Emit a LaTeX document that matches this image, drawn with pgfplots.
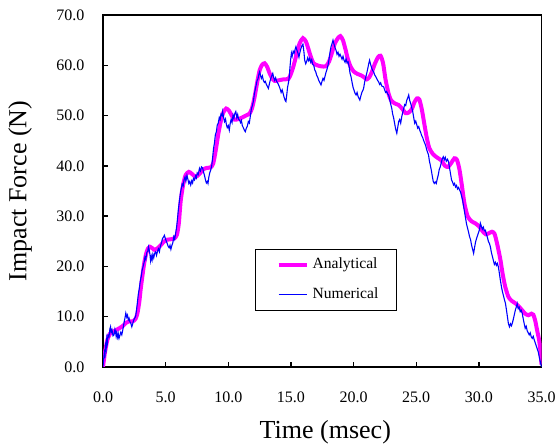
\documentclass[border=0pt]{standalone}
\usepackage{fontspec}
\setmainfont{Liberation Serif}
\usepackage{pgfplots}
\pgfplotsset{compat=1.18}
\definecolor{anmag}{HTML}{FF00FF}
\definecolor{numblue}{HTML}{0000FF}

\begin{document}
\begin{tikzpicture}
\path[use as bounding box] (-51.5pt,-40.5pt) rectangle (226pt,183.5pt);
\begin{axis}[
  scale only axis, width=219.25pt, height=176pt,
  xmin=0, xmax=35, ymin=0, ymax=70,
  xtick distance=5, ytick distance=10,
  tick align=inside, tick pos=left, major tick length=2.5pt,
  axis line style={line width=0.7pt}, every tick/.style={black, line width=0.7pt},
  /pgf/number format/assume math mode=true,
  xticklabel style={font=\fontsize{8}{9.6}\selectfont, yshift=-9pt,
    /pgf/number format/.cd, fixed, fixed zerofill, precision=1},
  yticklabel style={font=\fontsize{8}{9.6}\selectfont, xshift=-5.8pt,
    /pgf/number format/.cd, fixed, fixed zerofill, precision=1},
  xlabel={Time (msec)}, ylabel={Impact Force (N)},
  label style={font=\fontsize{13}{15.6}\selectfont},
  xlabel style={at={(axis description cs:0.507,-0.185)}, anchor=center},
  ylabel style={at={(axis description cs:-0.189,0.5)}, anchor=center},
  legend style={at={(axis description cs:0.3466,0.335)}, anchor=north west,
    draw=black, line width=0.6pt, fill=white, font=\fontsize{7.8}{9.4}\selectfont,
    inner xsep=7pt, inner ysep=2.2pt, row sep=4pt},
  legend cell align=left,
  legend image code/.code={\path (-3.5pt,0pt); \draw[#1] (0pt,0pt) -- (14pt,0pt);},
]
% Analytical
\addplot[anmag, line width=2pt, smooth, tension=0.4] coordinates {
(0,0) (0.15,2.8) (0.35,5.4) (0.55,6.6) (0.75,7.0) (1.0,7.3) (1.3,7.7) (1.6,8.2) (1.85,8.8) (2.1,9.1) (2.4,9.1) (2.6,9.6) (2.75,10.7) (2.9,13) (3.0,15.3) (3.15,18.2) (3.3,20.8) (3.45,22.6) (3.6,23.6) (3.75,23.9) (3.9,23.7) (4.1,23.3) (4.35,23.6) (4.6,24.2) (4.85,24.9) (5.1,25.3) (5.4,25.4) (5.7,25.6) (5.9,26.3) (6.05,28.5) (6.2,33) (6.4,36.3) (6.6,38.2) (6.85,38.8) (7.1,38.4) (7.4,37.8) (7.7,38.4) (8.0,39.3) (8.3,39.6) (8.6,39.7) (8.8,40.5) (9.0,43.1) (9.2,46.3) (9.42,49.1) (9.6,50.6) (9.83,51.4) (10.05,51.0) (10.3,49.9) (10.5,49.2) (10.8,49.3) (11.1,49.6) (11.4,50.0) (11.7,50.4) (11.9,51.5) (12.1,53.7) (12.3,56.5) (12.5,59.0) (12.7,60.1) (12.9,60.4) (13.1,59.7) (13.3,58.4) (13.5,57.4) (13.7,56.9) (14.0,57.0) (14.4,57.2) (14.8,57.3) (15.0,58.3) (15.2,59.8) (15.45,62.2) (15.7,64.4) (15.96,65.4) (16.2,64.7) (16.4,63.2) (16.6,61.6) (16.8,60.4) (17.1,60.0) (17.4,59.8) (17.8,59.8) (18.05,60.8) (18.25,62.3) (18.5,64.3) (18.75,65.4) (18.95,65.8) (19.15,65.0) (19.35,63.2) (19.55,61.2) (19.75,59.8) (20.0,58.8) (20.3,58.3) (20.6,58.0) (20.85,57.6) (21.05,57.2) (21.25,57.6) (21.45,58.6) (21.7,60.3) (21.95,61.6) (22.15,61.9) (22.35,60.5) (22.55,57.2) (22.8,54.3) (23.0,53.0) (23.3,52.4) (23.6,52.1) (23.9,51.3) (24.15,50.5) (24.4,50.6) (24.65,51.3) (24.85,52.6) (25.05,53.4) (25.25,53.2) (25.45,51.2) (25.65,48.3) (25.85,45.5) (26.05,43.5) (26.35,42.3) (26.7,41.6) (27.0,41.1) (27.3,40.0) (27.55,39.8) (27.8,40.6) (28.05,41.5) (28.25,41.2) (28.45,39.3) (28.65,36.0) (28.85,32.5) (29.1,30.0) (29.4,29.0) (29.7,28.6) (30.0,28.0) (30.3,27.0) (30.55,26.4) (30.8,26.6) (31.05,26.9) (31.25,26.5) (31.45,24.6) (31.7,21.6) (31.9,18.5) (32.1,16.0) (32.35,14.0) (32.6,13.2) (32.9,12.7) (33.2,12.0) (33.45,11.3) (33.7,10.6) (33.95,10.3) (34.2,10.6) (34.35,10.4) (34.5,9.2) (34.65,7.3) (34.8,5.5) (34.9,3.5) (35.0,0.5)
};
\addlegendentry{Analytical}
% Numerical
\addplot[numblue, line width=0.55pt] coordinates {
(0,0) (0.05,1.5) (0.1,2.7) (0.15,1.8) (0.2,4.2) (0.25,3.5) (0.3,5.6) (0.35,4.8) (0.4,6.3) (0.48,6.0) (0.55,7.6) (0.6,8.0) (0.65,6.9) (0.72,7.4) (0.8,6.2) (0.88,6.4) (0.95,7.5) (1.0,7.0) (1.05,6.1) (1.1,6.8) (1.17,5.9) (1.22,6.6) (1.28,5.7) (1.35,6.3) (1.42,6.9) (1.5,6.4) (1.55,7.0) (1.62,7.9) (1.7,9.1) (1.76,9.8) (1.82,10.7) (1.9,9.9) (1.96,10.3) (2.02,9.4) (2.08,9.7) (2.15,9.0) (2.22,8.7) (2.3,8.0) (2.35,8.4) (2.42,9.1) (2.5,9.6) (2.6,10.0) (2.68,11.4) (2.75,12.9) (2.82,14.5) (2.9,15.6) (2.97,17.0) (3.05,18.0) (3.12,19.2) (3.2,20.0) (3.28,20.8) (3.35,21.9) (3.42,21.4) (3.5,22.8) (3.57,23.0) (3.63,23.9) (3.68,23.4) (3.74,22.5) (3.8,21.1) (3.86,22.0) (3.92,21.3) (3.98,22.4) (4.05,21.7) (4.12,22.6) (4.2,22.9) (4.27,22.2) (4.35,23.0) (4.42,23.5) (4.5,22.9) (4.58,24.0) (4.66,24.6) (4.74,25.5) (4.82,25.8) (4.9,26.2) (4.97,25.6) (5.05,25.0) (5.12,24.6) (5.2,24.0) (5.28,23.7) (5.35,24.2) (5.42,23.4) (5.5,24.2) (5.58,24.8) (5.65,25.9) (5.72,25.4) (5.8,26.6) (5.88,27.9) (5.95,29.6) (6.02,31.4) (6.1,33.0) (6.18,34.6) (6.25,35.5) (6.32,36.4) (6.4,36.0) (6.47,37.2) (6.55,37.8) (6.62,37.0) (6.7,38.1) (6.78,37.3) (6.85,36.5) (6.92,36.9) (7.0,36.2) (7.08,37.0) (7.15,36.6) (7.22,37.5) (7.3,37.2) (7.38,38.0) (7.45,37.6) (7.52,38.6) (7.6,38.3) (7.7,39.5) (7.78,39.0) (7.86,39.8) (7.95,39.6) (8.02,38.8) (8.1,38.1) (8.18,37.2) (8.25,36.6) (8.32,36.9) (8.38,36.5) (8.45,37.8) (8.52,38.6) (8.6,39.2) (8.68,40.1) (8.75,41.6) (8.82,43.4) (8.9,44.6) (8.97,46.2) (9.05,46.8) (9.12,48.1) (9.2,48.5) (9.28,49.6) (9.35,49.2) (9.42,50.3) (9.5,50.0) (9.55,50.8) (9.62,49.7) (9.7,48.8) (9.78,49.3) (9.85,48.2) (9.92,47.6) (10.0,48.0) (10.08,47.1) (10.15,48.4) (10.22,49.2) (10.3,48.6) (10.38,50.1) (10.45,49.5) (10.52,50.4) (10.6,50.8) (10.68,49.6) (10.75,50.2) (10.82,49.3) (10.9,49.1) (10.98,48.6) (11.05,49.0) (11.12,48.0) (11.2,47.6) (11.28,47.1) (11.36,46.8) (11.44,47.5) (11.52,47.9) (11.6,48.8) (11.68,48.5) (11.76,49.9) (11.84,51.3) (11.92,52.0) (12.0,52.8) (12.07,54.1) (12.15,55.2) (12.22,56.0) (12.3,57.0) (12.37,57.3) (12.44,58.2) (12.5,58.7) (12.57,58.0) (12.64,57.4) (12.72,57.9) (12.8,57.0) (12.88,56.6) (12.96,56.8) (13.04,56.2) (13.12,55.8) (13.2,55.4) (13.28,56.3) (13.36,57.1) (13.45,57.8) (13.55,58.4) (13.62,57.6) (13.7,57.0) (13.78,57.5) (13.86,56.8) (13.96,56.4) (14.05,55.9) (14.14,55.3) (14.22,54.6) (14.3,55.1) (14.38,54.4) (14.46,53.6) (14.54,53.0) (14.6,52.8) (14.67,54.2) (14.73,55.6) (14.8,56.5) (14.86,57.5) (14.92,59.5) (14.98,61.2) (15.04,62.4) (15.1,61.8) (15.18,62.8) (15.26,62.4) (15.34,63.2) (15.4,63.7) (15.48,63.0) (15.56,62.4) (15.64,61.6) (15.7,62.4) (15.78,63.2) (15.86,63.8) (15.96,64.2) (16.04,62.6) (16.1,61.0) (16.18,60.3) (16.26,60.8) (16.34,61.5) (16.42,60.9) (16.5,61.4) (16.58,60.6) (16.66,61.1) (16.74,60.2) (16.82,60.0) (16.9,59.1) (16.98,58.7) (17.06,58.0) (17.14,57.6) (17.22,57.0) (17.3,56.6) (17.4,56.1) (17.48,56.8) (17.56,57.4) (17.64,57.0) (17.72,57.8) (17.8,58.6) (17.88,59.2) (17.96,60.0) (18.04,61.2) (18.12,62.6) (18.2,63.7) (18.28,64.3) (18.36,65.0) (18.44,64.2) (18.52,63.5) (18.6,63.0) (18.68,62.2) (18.76,62.6) (18.84,61.8) (18.92,62.2) (19.0,61.7) (19.08,61.2) (19.16,61.8) (19.24,61.0) (19.32,60.6) (19.4,61.3) (19.48,60.5) (19.56,60.7) (19.64,59.8) (19.72,58.4) (19.8,57.7) (19.88,56.6) (19.96,55.6) (20.04,55.0) (20.12,54.4) (20.2,54.1) (20.28,54.6) (20.36,53.8) (20.44,53.4) (20.5,53.1) (20.58,53.9) (20.66,54.6) (20.74,55.0) (20.8,55.4) (20.88,56.6) (20.96,57.5) (21.04,58.3) (21.12,59.2) (21.2,60.2) (21.28,61.0) (21.36,60.2) (21.44,59.5) (21.52,59.0) (21.6,58.7) (21.68,58.1) (21.76,57.8) (21.84,57.4) (21.92,57.0) (22.0,56.7) (22.08,56.2) (22.16,56.5) (22.24,55.9) (22.32,55.8) (22.4,55.7) (22.48,55.1) (22.56,54.6) (22.64,54.8) (22.72,54.3) (22.8,54.1) (22.88,53.2) (22.96,52.3) (23.05,51.4) (23.12,50.3) (23.2,49.5) (23.28,48.4) (23.36,47.3) (23.45,46.5) (23.52,47.6) (23.6,48.8) (23.68,49.2) (23.76,48.5) (23.84,49.7) (23.92,50.6) (24.0,51.4) (24.08,52.2) (24.16,52.0) (24.24,53.0) (24.32,53.5) (24.4,54.1) (24.48,53.0) (24.56,52.4) (24.64,51.6) (24.72,50.8) (24.8,49.6) (24.88,48.5) (24.96,48.9) (25.04,48.2) (25.12,47.5) (25.2,47.8) (25.28,47.1) (25.36,46.6) (25.44,46.0) (25.52,45.6) (25.6,45.0) (25.68,44.5) (25.76,44.0) (25.84,43.2) (25.92,42.6) (25.98,42.2) (26.05,41.0) (26.12,40.2) (26.2,39.2) (26.28,38.0) (26.36,36.9) (26.44,36.5) (26.52,36.8) (26.6,36.5) (26.68,37.4) (26.76,38.2) (26.84,39.3) (26.92,39.8) (27.0,40.6) (27.08,41.4) (27.16,41.8) (27.24,41.2) (27.32,41.7) (27.4,40.9) (27.5,41.3) (27.58,40.8) (27.66,39.6) (27.74,38.4) (27.82,37.2) (27.9,36.8) (27.98,36.2) (28.06,36.5) (28.14,35.8) (28.22,36.1) (28.3,35.4) (28.38,35.7) (28.46,35.2) (28.54,34.8) (28.62,34.0) (28.7,33.2) (28.78,32.0) (28.86,30.8) (28.94,29.6) (29.02,28.4) (29.1,27.6) (29.18,26.8) (29.26,25.9) (29.34,25.3) (29.42,24.2) (29.5,23.4) (29.58,22.6) (29.66,23.8) (29.74,24.9) (29.82,25.6) (29.9,26.2) (29.98,26.8) (30.06,27.4) (30.12,28.6) (30.2,28.0) (30.28,27.4) (30.36,27.8) (30.44,27.1) (30.52,27.2) (30.6,26.4) (30.68,25.8) (30.76,25.0) (30.84,24.6) (30.92,23.9) (31.0,22.8) (31.08,22.0) (31.16,21.2) (31.24,20.4) (31.32,20.8) (31.4,20.2) (31.48,20.6) (31.56,19.9) (31.64,18.6) (31.72,17.2) (31.8,16.0) (31.88,15.0) (31.96,14.2) (32.04,13.4) (32.12,12.7) (32.2,11.4) (32.28,10.0) (32.36,8.6) (32.44,8.0) (32.52,8.6) (32.6,8.2) (32.68,8.8) (32.76,9.6) (32.84,10.5) (32.92,11.4) (33.0,12.0) (33.06,12.6) (33.14,11.6) (33.22,11.9) (33.3,11.0) (33.38,11.3) (33.46,10.7) (33.54,9.6) (33.62,8.6) (33.7,7.7) (33.78,8.1) (33.86,7.2) (33.94,6.8) (34.02,6.4) (34.1,6.8) (34.18,6.0) (34.26,5.7) (34.34,6.1) (34.42,5.4) (34.5,4.8) (34.58,4.2) (34.66,3.6) (34.74,3.0) (34.82,2.0) (34.9,1.1) (34.96,0.4) (35.0,0)
};
\addlegendentry{Numerical}
\end{axis}
\end{tikzpicture}
\end{document}
